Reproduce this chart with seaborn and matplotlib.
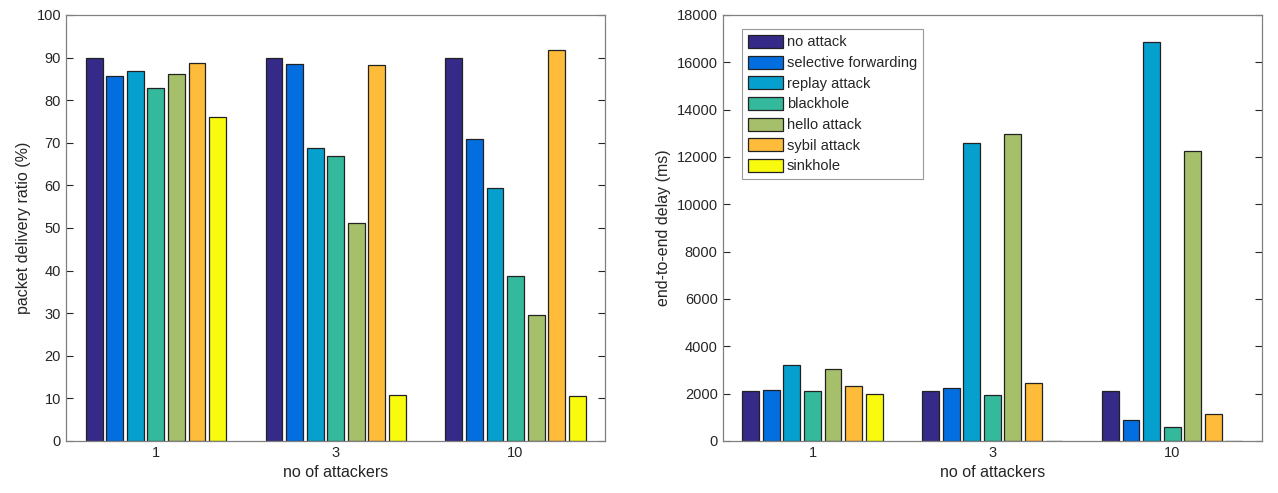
import matplotlib
matplotlib.use("Agg")
import matplotlib.pyplot as plt
import seaborn as sns
import pandas as pd

# data
attackers = ["1", "3", "10"]
attacks = ["no attack", "selective forwarding", "replay attack", "blackhole",
           "hello attack", "sybil attack", "sinkhole"]
pdr = {
    "no attack":            [90.0, 90.0, 90.0],
    "selective forwarding": [85.7, 88.5, 71.0],
    "replay attack":        [86.8, 68.8, 59.5],
    "blackhole":            [82.8, 67.0, 38.8],
    "hello attack":         [86.2, 51.2, 29.6],
    "sybil attack":         [88.8, 88.2, 91.8],
    "sinkhole":             [76.0, 10.8, 10.5],
}
delay = {
    "no attack":            [2100, 2100, 2100],
    "selective forwarding": [2150, 2230, 900],
    "replay attack":        [3220, 12570, 16850],
    "blackhole":            [2100, 1930, 590],
    "hello attack":         [3030, 12980, 12250],
    "sybil attack":         [2330, 2450, 1150],
    "sinkhole":             [1990, 0, 0],
}
colors = ["#352A87", "#036EE0", "#06A0CE", "#35B99D", "#A6BF6A", "#FEBC3A", "#F9FB0E"]

rows = []
for a in attacks:
    for i, n in enumerate(attackers):
        rows.append({"attackers": n, "attack": a, "pdr": pdr[a][i], "delay": delay[a][i]})
df = pd.DataFrame(rows)

sns.set_theme(style="white")
plt.rcParams['font.family'] = ['Liberation Sans', 'DejaVu Sans']

fig, axes = plt.subplots(1, 2, figsize=(12.78, 4.93), dpi=100)
plt.subplots_adjust(left=0.0516, right=0.9875, bottom=0.1055, top=0.9696, wspace=0.217)

for ax, col, ylab, ymax, step in [(axes[0], "pdr", "packet delivery ratio (%)", 100, 10),
                                  (axes[1], "delay", "end-to-end delay (ms)", 18000, 2000)]:
    sns.barplot(data=df, x="attackers", y=col, hue="attack", order=attackers,
                hue_order=attacks, palette=colors, saturation=1, width=0.8, gap=0.18,
                edgecolor="#222222", linewidth=0.9, ax=ax, legend=(col == "delay"))
    ax.set_xlim(-0.5, 2.5)
    ax.set_ylim(0, ymax)
    ax.set_yticks(range(0, ymax + 1, step))
    ax.set_xlabel("no of attackers", fontsize=11.5, color="#262626")
    ax.set_ylabel(ylab, fontsize=11.5, color="#262626")
    ax.tick_params(axis="both", direction="in", length=5, width=0.8, labelsize=10.5,
                   colors="#262626", top=True, right=True, bottom=True, left=True)
    ax.tick_params(axis="x", top=False)
    for s in ax.spines.values():
        s.set_color("#808080")
        s.set_linewidth(0.9)

leg = axes[1].legend(loc="upper left", fontsize=10.5, frameon=True, fancybox=False,
                     edgecolor="#808080", handlelength=2.4, handleheight=1.0,
                     labelspacing=0.42, borderpad=0.4, handletextpad=0.3,
                     bbox_to_anchor=(0.022, 0.984))
leg.get_frame().set_linewidth(0.8)
for h in leg.legend_handles:
    h.set_edgecolor("#222222")

fig.savefig("out.png", dpi=100)
